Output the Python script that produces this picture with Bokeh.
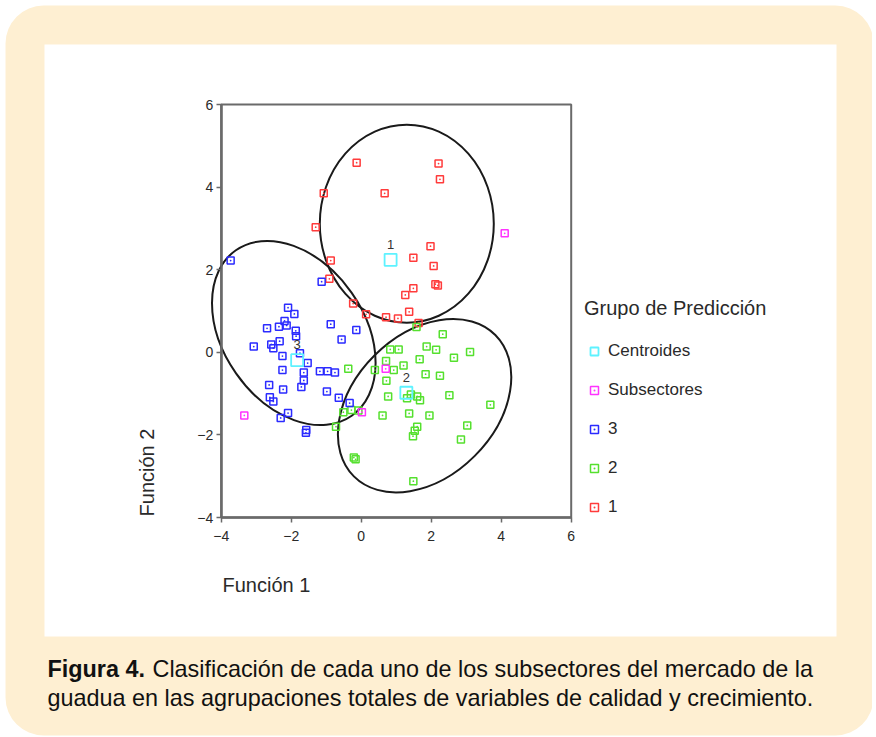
import math
from bokeh.plotting import figure
from bokeh.models import (Range1d, LinearAxis, FixedTicker, Legend, LegendItem,
                          BoxAnnotation)
from bokeh.core.properties import value
from bokeh.embed import file_html
from bokeh.resources import INLINE

# ---------------- data (Función 1, Función 2) ----------------
grupo1_x = [-0.13, -1.07, 0.67, -1.30, -0.87, 2.21, 2.25, 1.98, 1.49, 2.07,
            2.12, 2.19, 1.49, 1.26, 1.37, 0.71, 1.05, 1.64, -0.91, -0.23, 0.14]
grupo1_y = [4.59, 3.85, 3.85, 3.03, 2.22, 4.57, 4.19, 2.57, 2.29, 2.09,
            1.65, 1.62, 1.55, 1.39, 0.98, 0.85, 0.82, 0.71, 1.78, 1.18, 0.92]

grupo2_x = [1.58, 2.33, 0.83, 1.07, 1.87, 2.14, 3.11, 2.65, 1.67, 0.71,
            0.93, 1.21, 1.84, 2.25, 0.72, 0.39, -0.37, 0.77, 1.31, 1.42,
            1.60, 1.68, 2.52, 3.69, 0.61, 1.37, 1.95, 3.03, 1.60, 1.53,
            1.48, 2.85, -0.21, -0.16, 1.49, -0.51, -0.28, -0.08, -0.72]
grupo2_y = [0.61, 0.44, 0.07, 0.07, 0.14, 0.06, 0.01, -0.13, -0.17, -0.21,
            -0.43, -0.32, -0.53, -0.57, -0.69, -0.43, -0.40, -1.07, -1.11, -1.02,
            -1.07, -1.16, -1.04, -1.27, -1.53, -1.48, -1.53, -1.77, -1.80, -1.90,
            -2.03, -2.11, -2.55, -2.59, -3.12, -1.45, -1.40, -1.41, -1.80]

grupo3_x = [-3.73, -1.13, -2.09, -1.91, -2.19, -2.13, -2.35, -2.69, -1.87, -1.86,
            -0.87, -0.14, -0.56, -2.33, -3.07, -2.57, -2.51, -1.75, -2.25, -1.53,
            -2.25, -1.64, -1.18, -0.96, -0.75, -1.64, -2.63, -1.71, -2.23, -0.98,
            -2.61, -2.51, -0.64, -0.33, -2.09, -2.30, -1.57, -1.58]
grupo3_y = [2.22, 1.71, 1.08, 0.93, 0.76, 0.65, 0.62, 0.58, 0.52, 0.39,
            0.68, 0.54, 0.31, 0.27, 0.14, 0.19, 0.10, -0.02, -0.09, -0.26,
            -0.43, -0.49, -0.46, -0.46, -0.49, -0.68, -0.79, -0.84, -0.90, -0.95,
            -1.09, -1.19, -1.10, -1.23, -1.47, -1.59, -1.88, -1.95]

subsect_x = [4.10, 0.70, -3.34, 0.02]
subsect_y = [2.88, -0.40, -1.53, -1.45]

centro_x = [0.84, 1.29, -1.83]
centro_y = [2.24, -0.98, -0.19]
centro_lab = ["1", "2", "3"]

ticks = [-4, -2, 0, 2, 4, 6]

# ---------------- geometry / style ----------------
W, H = 872, 736
OFF = 0
BOX_L, BOX_R, BOX_T, BOX_B = 220.7, 570.7, 104.0, 517.0   # reference px of the -4..6 box
X0, X1, Y0, Y1 = -4, 6, -4, 6
KX = (BOX_R - BOX_L) / (X1 - X0)
KY = (BOX_B - BOX_T) / (Y1 - Y0)


def fx(px):
    return X0 + (px - BOX_L) / KX


def fy(py):
    return Y1 - (py - BOX_T) / KY


FONT = "Liberation Sans"
CREAM = "#FEEFD2"
AXC = "#6a6a6a"
RED = "#FF3B3B"
GREEN = "#55E02E"
BLUE = "#2B2BFF"
MAG = "#FF33FF"
CYAN = "#5EF2FF"

p = figure(width=W, height=H, x_range=Range1d(fx(OFF), fx(OFF + W)),
           y_range=Range1d(fy(OFF + H), fy(OFF)), output_backend="svg",
           toolbar_location=None, x_axis_location=None, y_axis_location=None,
           min_border=0, outline_line_color=None,
           background_fill_color="white", border_fill_color="white")
p.grid.visible = False

# panel background and white card
p.add_layout(BoxAnnotation(left=fx(5), right=fx(873), top=fy(5), bottom=fy(735),
                           fill_color=CREAM, fill_alpha=1, line_color=None,
                           border_radius=38, level="underlay"))
p.add_layout(BoxAnnotation(left=fx(44), right=fx(836), top=fy(44), bottom=fy(636),
                           fill_color="white", fill_alpha=1, line_color=None,
                           level="underlay"))

# plotting box outline
p.quad(left=[X0], right=[X1], bottom=[Y0], top=[Y1], fill_color=None,
       line_color=AXC, line_width=2)

# group ellipses (screen-sized)
ell_x = [fx(406.3), fx(424.1), fx(293.3)]
ell_y = [fy(223.2), fy(405.2), fy(332.5)]
ell_w = [174, 200, 202]
ell_h = [198, 142, 141]
ell_a = [0.0, math.radians(45), math.radians(-55)]
p.ellipse(x=ell_x, y=ell_y, width=ell_w, height=ell_h, angle=ell_a,
          width_units="screen", height_units="screen",
          fill_color=None, line_color="#1a1a1a", line_width=2)

mk = dict(marker="square_dot", size=7, fill_color=None, line_width=1.5)
r1 = p.scatter(grupo1_x, grupo1_y, line_color=RED, **mk)
r2 = p.scatter(grupo2_x, grupo2_y, line_color=GREEN, **mk)
r3 = p.scatter(grupo3_x, grupo3_y, line_color=BLUE, **mk)
rs = p.scatter(subsect_x, subsect_y, line_color=MAG, **mk)
rc = p.scatter(centro_x, centro_y, marker="square", size=12, fill_color=None,
               line_color=CYAN, line_width=1.8)
p.text(x=centro_x, y=centro_y, text=centro_lab, y_offset=-11,
       text_font=value(FONT), text_font_size="13px", text_color="#333333",
       text_align="center", text_baseline="bottom")

# axes
for loc, fixed, bnds in (("below", Y0, (X0, X1)), ("left", X0, (Y0, Y1))):
    ax = LinearAxis(fixed_location=fixed, bounds=bnds, ticker=FixedTicker(ticks=ticks))
    ax.axis_line_color = AXC
    ax.axis_line_width = 2.5
    ax.major_tick_line_color = AXC
    ax.major_tick_line_width = 1.5
    ax.major_tick_out = 5
    ax.major_tick_in = 0
    ax.minor_tick_line_color = None
    ax.major_label_text_font = FONT
    ax.major_label_text_font_size = "14px"
    ax.major_label_text_color = "#2a2a2a"
    ax.major_label_standoff = 8 if loc == "below" else 3
    p.add_layout(ax, loc)


def txt(px, py, s, size, align="left", angle=0.0, style="normal", color="#2a2a2a"):
    p.text(x=[fx(px)], y=[fy(py)], text=[s], text_font=value(FONT),
           text_font_size=f"{size}px", text_color=color, text_align=align,
           text_baseline="middle", angle=angle, text_font_style=style)


txt(222, 584, "Función 1", 20)
txt(146, 472, "Función 2", 20, align="center", angle=math.pi / 2)

# caption
txt(47, 668, "Figura 4.", 23.4, style="bold", color="#111111")
txt(152, 668, "Clasificación de cada uno de los subsectores del mercado de la", 23.4, color="#111111")
txt(47, 697, "guadua en las agrupaciones totales de variables de calidad y crecimiento.", 23.4, color="#111111")

legend = Legend(items=[LegendItem(label="Centroides", renderers=[rc]),
                       LegendItem(label="Subsectores", renderers=[rs]),
                       LegendItem(label="3", renderers=[r3]),
                       LegendItem(label="2", renderers=[r2]),
                       LegendItem(label="1", renderers=[r1])],
                location=(584, 219), title="Grupo de Predicción",
                title_text_font=FONT, title_text_font_size="20px",
                title_text_font_style="normal", title_text_color="#2a2a2a",
                label_text_font=FONT, label_text_font_size="17px",
                label_text_color="#2a2a2a", background_fill_alpha=0,
                border_line_color=None, padding=0, margin=0, spacing=19,
                glyph_width=20, glyph_height=20, label_height=20,
                label_standoff=4, title_standoff=21)
p.add_layout(legend)

open("out.html", "w").write(file_html(p, INLINE))
